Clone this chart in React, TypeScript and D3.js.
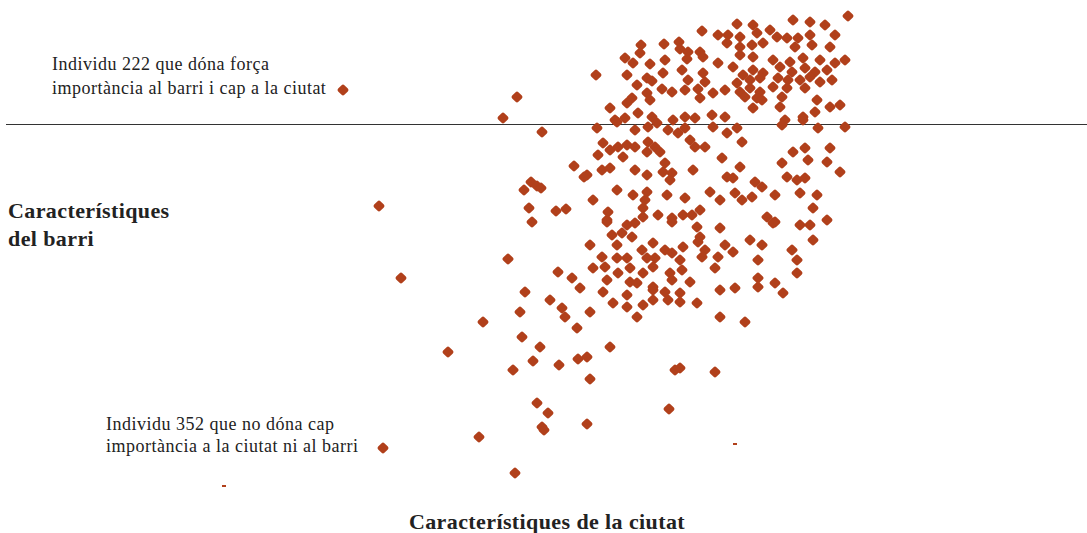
import React from "react";
import * as d3 from "d3";

// values (city score on x, neighbourhood score on y)
const nucliSuperior: [number, number][] = [
  [702, 31], [718, 35], [664, 44], [641, 45], [679, 42], [680, 49], [688, 52], [700, 52],
  [703, 57], [640, 53], [625, 58], [633, 63], [650, 64], [665, 60], [687, 59], [718, 63],
  [596, 75], [627, 75], [647, 78], [652, 81], [663, 73], [682, 70], [703, 73], [688, 80],
  [705, 82], [637, 85], [662, 89], [672, 92], [685, 90], [698, 89], [713, 93], [647, 93],
  [650, 100], [632, 98], [627, 103], [700, 98], [610, 108], [638, 113], [652, 117], [615, 120],
  [625, 118], [673, 120], [685, 117], [695, 118], [712, 115],
  [793, 20], [810, 22], [848, 16], [737, 24], [753, 25], [825, 25], [770, 30], [777, 37],
  [787, 38], [798, 38], [810, 35], [835, 35], [728, 35], [740, 37], [757, 33], [727, 43],
  [740, 47], [752, 45], [763, 43], [795, 47], [812, 45], [830, 47], [740, 55], [753, 57],
  [773, 60], [790, 62], [803, 58], [820, 60], [835, 63], [845, 60], [733, 67], [753, 70],
  [763, 73], [780, 67], [792, 72], [805, 68], [815, 72], [827, 70], [743, 75], [750, 80],
  [760, 78], [778, 78], [788, 80], [800, 80], [810, 77], [820, 82], [832, 80], [725, 90],
  [737, 83], [740, 92], [750, 88], [760, 92], [773, 87], [787, 88], [805, 88], [745, 97],
  [757, 98], [762, 100], [782, 97], [780, 107], [817, 100], [830, 107], [840, 105], [753, 108],
  [725, 117], [803, 117], [815, 112], [785, 120],
  [503, 118], [517, 97],
];

const nucliMig: [number, number][] = [
  [597, 128], [617, 122], [635, 130], [648, 127], [657, 123], [668, 130], [678, 133], [685, 128],
  [690, 140], [713, 127], [695, 147], [705, 147], [603, 143], [610, 150], [598, 155], [618, 147],
  [627, 145], [635, 147], [648, 142], [655, 147], [647, 152], [660, 152], [623, 157], [602, 170],
  [610, 168], [587, 175], [635, 170], [647, 175], [665, 163], [663, 172], [672, 173], [670, 180],
  [693, 170], [617, 190], [633, 195], [647, 192], [645, 200], [667, 195], [685, 198], [710, 192],
  [593, 200], [608, 212], [607, 220], [643, 208], [643, 217], [658, 215], [672, 218], [683, 215],
  [692, 215], [700, 210], [720, 200], [635, 223],
  [727, 133], [737, 128], [742, 142], [722, 158], [782, 125], [803, 120], [818, 128], [845, 127],
  [793, 152], [805, 148], [808, 160], [830, 148], [827, 162], [840, 172], [782, 163], [740, 167],
  [727, 177], [733, 178], [787, 177], [797, 180], [805, 178], [755, 182], [762, 187], [735, 193],
  [742, 200], [752, 197], [775, 195], [800, 193], [817, 195], [813, 208], [767, 217], [775, 222],
  [800, 225], [810, 225], [827, 220],
  [542, 132], [574, 166], [584, 177], [524, 190], [531, 182], [537, 186], [541, 188], [529, 208],
  [556, 211], [566, 209],
];

const nucliInferior: [number, number][] = [
  [532, 222], [607, 222], [627, 225], [672, 222], [697, 227], [720, 228], [773, 223], [612, 235],
  [622, 233], [632, 237], [700, 237], [750, 240], [762, 245], [813, 240], [590, 245], [617, 245],
  [642, 250], [653, 243], [665, 250], [672, 253], [683, 247], [698, 242], [705, 250], [725, 245],
  [733, 252], [792, 250], [508, 259], [602, 257], [617, 258], [627, 258], [647, 258], [655, 258],
  [680, 260], [702, 257], [718, 257], [758, 260], [797, 260], [593, 268], [605, 267], [618, 273],
  [630, 268], [643, 273], [653, 267], [670, 273], [682, 270], [715, 268], [797, 273], [558, 272],
  [572, 278], [607, 280], [630, 282], [637, 283], [653, 287], [672, 280], [690, 282], [758, 278],
  [758, 287], [775, 283], [525, 292], [580, 288], [603, 292], [627, 295], [653, 290], [665, 292],
  [668, 300], [680, 293], [720, 290], [735, 288], [783, 293], [550, 300], [613, 303], [627, 307],
  [643, 305], [653, 300], [680, 302], [697, 303], [562, 308], [590, 312], [637, 317], [520, 312],
  [565, 317], [720, 317], [745, 322], [483, 322], [577, 328],
  [522, 337], [540, 347], [610, 347], [448, 352], [513, 370], [533, 361], [559, 365], [578, 359],
  [587, 357], [590, 379], [680, 368], [675, 370], [715, 372], [537, 403], [548, 413], [542, 427],
  [544, 430], [587, 424], [669, 409], [479, 437], [515, 473],
];

const dispersos: [number, number][] = [
  [343, 90], [379, 206], [401, 278], [383, 448],
];

// two clipped marks that only show as short dashes
const retallats: [number, number][] = [
  [735, 444], [224, 486],
];

const anotacio222 = ["Individu 222 que dóna força", "importància al barri i cap a la ciutat"];
const anotacio352 = ["Individu 352 que no dóna cap", "importància a la ciutat ni al barri"];
const titolY = ["Característiques", "del barri"];
const titolX = "Característiques de la ciutat";

const width = 1087;
const height = 533;
const color = "#b1401b";
const font = "'Liberation Serif', 'DejaVu Serif', serif";

const x = d3.scaleLinear().domain([0, 1087]).range([0, width]);
const y = d3.scaleLinear().domain([0, 533]).range([0, height]);
// small diamond with a thick round-joined stroke gives the soft blob look
const marker = d3.symbol(d3.symbolDiamond2, 30)();

export default function App() {
  const punts = [...nucliSuperior, ...nucliMig, ...nucliInferior, ...dispersos];
  return (
    <svg
      width={width}
      height={height}
      style={{ position: "absolute", left: 0, top: 0, display: "block" }}
    >
      <rect width={width} height={height} fill="#fff" />
      <line x1={6} x2={width} y1={124.5} y2={124.5} stroke="#333" strokeWidth={1} />
      <g>
        {punts.map((d, i) => (
          <path
            key={i}
            d={marker ?? ""}
            transform={`translate(${x(d[0])},${y(d[1])})`}
            fill={color}
            stroke={color}
            strokeWidth={4}
            strokeLinejoin="round"
          />
        ))}
        {retallats.map((d, i) => (
          <rect key={"r" + i} x={x(d[0]) - 2} y={y(d[1]) - 1} width={4} height={2} fill={color} />
        ))}
      </g>
      <g fontFamily={font} fill="#222" fontSize={18} letterSpacing={0.5}>
        {anotacio222.map((t, i) => (
          <text key={"a" + i} x={52} y={70 + i * 24}>{t}</text>
        ))}
        {anotacio352.map((t, i) => (
          <text key={"b" + i} x={106} y={430 + i * 22}>{t}</text>
        ))}
      </g>
      <g fontFamily={font} fill="#222" fontWeight="bold" fontSize={22} letterSpacing={0.4}>
        {titolY.map((t, i) => (
          <text key={"t" + i} x={8} y={218 + i * 28}>{t}</text>
        ))}
        <text x={547} y={529} textAnchor="middle">{titolX}</text>
      </g>
    </svg>
  );
}
